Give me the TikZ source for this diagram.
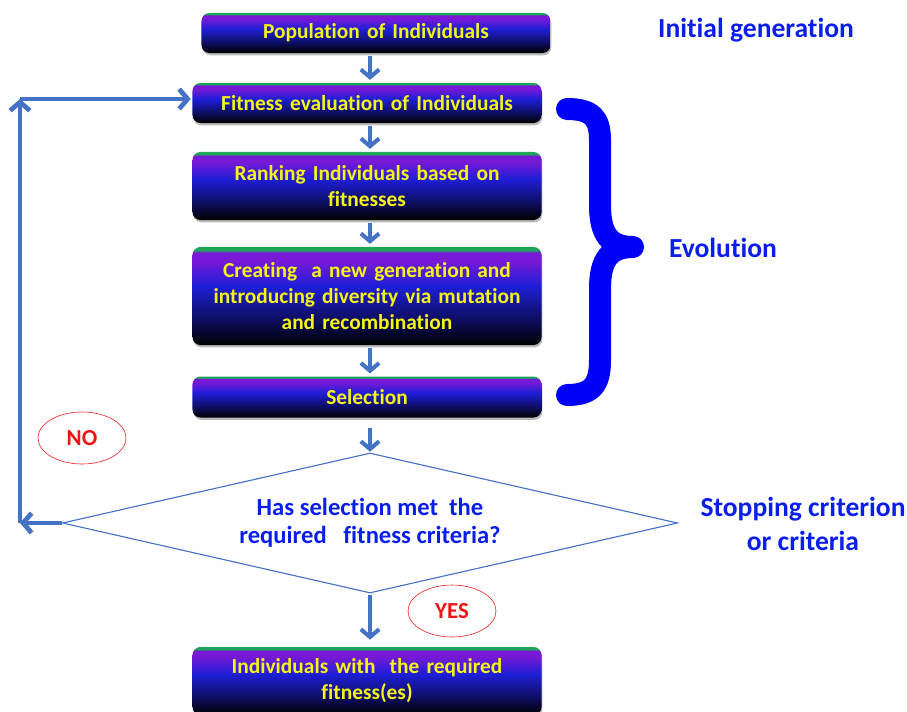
\documentclass[tikz,border=0pt]{standalone}
\usepackage{fontspec}
\setmainfont{Carlito}[Ligatures=NoCommon]
\usetikzlibrary{positioning,shapes.geometric,arrows.meta,shadows}

\definecolor{flowblue}{RGB}{68,114,196}
\definecolor{labelblue}{RGB}{10,30,235}
\definecolor{bracecol}{RGB}{0,0,250}
\definecolor{boxgreen}{RGB}{30,165,90}
\definecolor{boxpurple}{RGB}{120,25,215}
\definecolor{boxblue}{RGB}{30,30,215}
\definecolor{boxyellow}{RGB}{245,245,20}
\definecolor{answerred}{RGB}{240,20,20}

\pgfdeclareverticalshading{stepshade}{100bp}{color(0bp)=(black); color(25bp)=(black); color(38bp)=(boxblue!45!black); color(55bp)=(boxblue); color(68bp)=(boxpurple); color(72bp)=(boxpurple); color(73.5bp)=(boxgreen); color(100bp)=(boxgreen)}

\tikzset{
  stepbox/.style={rectangle, rounded corners=0.2cm, shading=stepshade, text=boxyellow,
    font=\fontsize{15.2}{18.5}\selectfont\bfseries, align=center, text width=8.5cm,
    minimum width=8.725cm, inner sep=0pt,
    drop shadow={shadow xshift=0.6pt, shadow yshift=-1.6pt, fill=black!60, opacity=0.45}},
  flow/.style={draw=flowblue, line width=2.9pt, -{Straight Barb[length=5.5pt, width=13pt]}},
  loopline/.style={draw=flowblue, line width=3.4pt, -{Straight Barb[length=6pt, width=14pt]}},
  sidelabel/.style={text=labelblue, font=\fontsize{19.6}{24.2}\selectfont\bfseries, align=center},
  answer/.style={ellipse, draw=answerred, thin, text=answerred, font=\fontsize{16.3}{18}\selectfont\bfseries,
    minimum width=2.2cm, minimum height=1.3cm}
}

\begin{document}
\begin{tikzpicture}[x=0.025cm, y=-0.025cm]
  \useasboundingbox (0,0) rectangle (907,711);
  \coordinate (axis) at (370,0);

  % steps of the loop
  \node[stepbox, minimum height=1cm] (pop) at (376,33) {Population of Individuals};
  \node[stepbox, minimum height=1cm] (fit) at (367,103) {Fitness evaluation of Individuals};
  \node[stepbox, minimum height=1.7cm] (rank) at (367,186) {Ranking Individuals based on\\fitnesses};
  \node[stepbox, minimum height=2.45cm] (create) at (367,296) {Creating\ \ a new generation and\\introducing diversity via mutation\\and recombination};
  \node[stepbox, minimum height=1.025cm] (sel) at (367,397) {Selection};
  \node[diamond, aspect=4.39, draw=flowblue, line width=0.8pt, minimum width=15.375cm, minimum height=3.5cm, inner sep=0pt,
    text=labelblue, font=\fontsize{17.5}{20}\selectfont\bfseries, align=center] (dec) at (370,523)
    {Has selection met\ \ the\\required\ \ \ fitness criteria?};
  \node[stepbox, minimum height=1.7cm] (final) at (367,681) {Individuals with\ \ the required\\fitness(es)};

  % answers
  \node[answer] (no) at (82,438) {NO};
  \node[answer] (yes) at (452,611) {YES};

  % labels on the right
  \node[sidelabel] (initial) at (756,30) {Initial generation};
  \node[sidelabel] (evol) at (723,248) {Evolution};
  \node[sidelabel] (stop) at (803,524) {Stopping criterion\\or criteria};

  % brace round the evolution steps
  \draw[bracecol, line width=0.55cm, line cap=round, line join=round]
    (567,109) .. controls (592,109) and (600,118) .. (600,140) -- (600,205)
    .. controls (600,235) and (610,247) .. (633,247)
    .. controls (610,247) and (600,259) .. (600,289) -- (600,360)
    .. controls (600,385) and (592,395) .. (567,395);

  % arrows down the chain
  \draw[flow, shorten <=2pt, shorten >=2pt] (pop.south -| axis) -- (fit.north -| axis);
  \draw[flow, shorten <=2pt, shorten >=2pt] (fit.south -| axis) -- (rank.north -| axis);
  \draw[flow, shorten <=2pt, shorten >=2pt] (rank.south -| axis) -- (create.north -| axis);
  \draw[flow, shorten <=2pt, shorten >=2pt] (create.south -| axis) -- (sel.north -| axis);
  \draw[flow, shorten <=7pt, shorten >=0.5pt] (sel.south -| dec.north) -- (dec.north);
  \draw[flow, shorten <=1pt, shorten >=5pt] (dec.south) -- (dec.south |- final.north);

  % back to the fitness evaluation
  \coordinate (turnB) at (20,523);
  \coordinate (turnT) at (20,99);
  \draw[loopline] (dec.west) -- (turnB);
  \draw[loopline] (turnB) -- (turnT);
  \draw[loopline, shorten >=1pt] (turnT) -- (turnT -| fit.west);
\end{tikzpicture}
\end{document}
